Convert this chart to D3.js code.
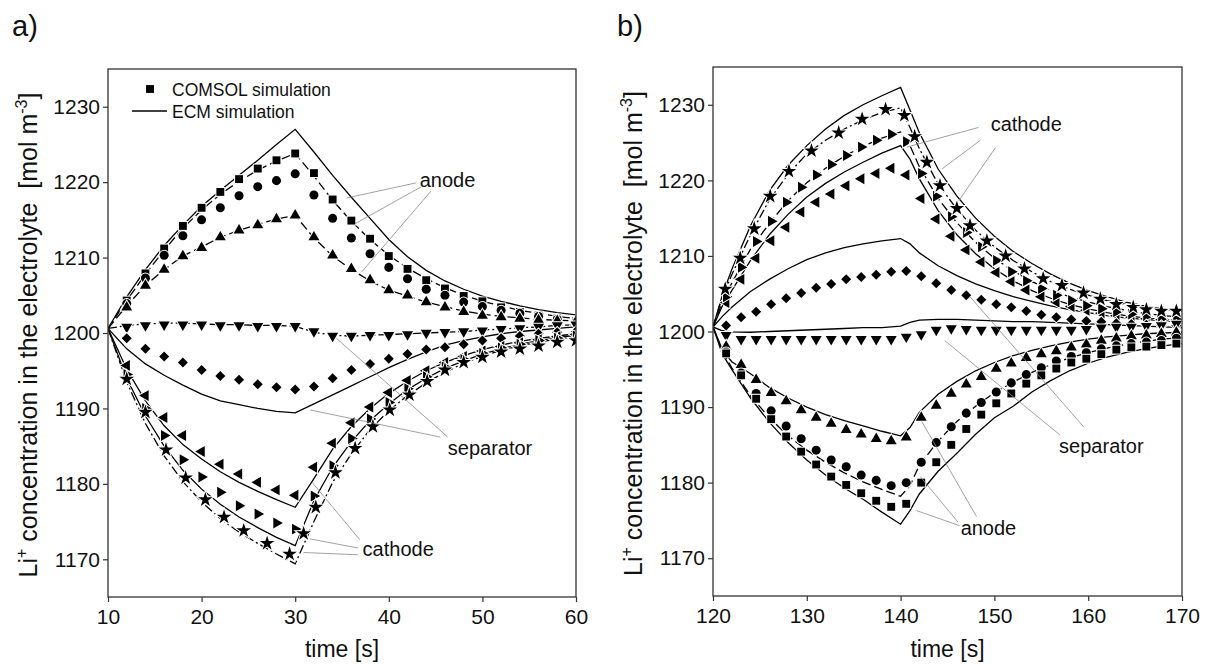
<!DOCTYPE html>
<html>
<head>
<meta charset="utf-8">
<script src="https://cdn.jsdelivr.net/npm/d3@7"></script>
<style>
  html, body { margin: 0; padding: 0; background: #fff; }
  svg text { font-family: Arial, "Liberation Sans", sans-serif; }
</style>
</head>
<body>
<svg id="fig" width="1207" height="665"></svg>
<script>
// ---------------- data: panel a (pulse 10-30 s, relaxation to 60 s) ----------------
const tMarkA = [12,14,16,18,20,22,24,26,28,30,32,34,36,38,40,42,44,46,48,50,52,54,56,58,60];
const anodeSqA  = [1204.3,1207.9,1211.2,1214.2,1216.6,1218.7,1220.4,1221.8,1222.9,1223.8,1221.2,1217.7,1214.9,1212.5,1210.2,1208.5,1207.0,1205.9,1204.9,1204.2,1203.4,1202.8,1202.3,1201.9,1201.6];
const anodeCiA  = [1203.9,1207.3,1210.3,1212.9,1215.0,1216.6,1218.2,1219.4,1220.2,1221.1,1218.3,1215.2,1212.6,1210.5,1208.7,1207.2,1205.8,1205.0,1204.1,1203.5,1203.0,1202.6,1202.2,1201.8,1201.5];
const anodeTrA  = [1203.4,1206.3,1208.4,1210.2,1211.3,1212.7,1213.6,1214.3,1215.1,1215.6,1212.7,1210.3,1208.5,1207.0,1205.7,1205.0,1204.1,1203.4,1202.8,1202.3,1202.1,1201.9,1201.7,1201.6,1201.5];
const sepDownA  = [1200.8,1201.0,1201.1,1201.1,1201.1,1201.0,1201.0,1200.9,1200.9,1200.9,1200.2,1199.6,1199.6,1199.7,1199.7,1199.8,1200.0,1200.1,1200.2,1200.3,1200.5,1200.6,1200.8,1201.0,1201.1];
const sepDiaA   = [1199.3,1197.9,1196.9,1196.1,1195.1,1194.3,1193.8,1193.2,1192.8,1192.5,1192.9,1194.0,1195.1,1195.9,1196.6,1197.2,1197.8,1198.1,1198.5,1199.0,1199.3,1199.6,1199.9,1200.1,1200.2];
const cathLeftA = [1195.7,1191.7,1188.8,1186.4,1184.3,1182.6,1181.3,1180.2,1179.2,1178.5,1182.2,1185.4,1188.1,1190.2,1192.1,1193.7,1195.0,1196.1,1196.9,1197.6,1198.2,1198.7,1199.1,1199.5,1199.8];
const cathRightA= [1194.5,1190.0,1186.4,1183.2,1180.9,1178.9,1177.1,1176.0,1174.8,1174.0,1178.4,1182.4,1186.0,1188.6,1190.8,1192.6,1194.2,1195.5,1196.5,1197.3,1198.0,1198.5,1199.0,1199.3,1199.6];
const tStarA    = [12,14,16.2,18.3,20.4,22.4,24.5,27.0,29.4,30.9,32.2,34.3,36.4,38.3,40.1,42.2,44.1,46,48,50,52,54,56,58,60];
const cathStarA = [1193.9,1189.5,1184.5,1180.8,1177.9,1175.6,1173.8,1172.1,1170.7,1173.4,1176.9,1181.5,1184.7,1187.6,1189.8,1191.8,1193.6,1195.1,1196.1,1196.8,1197.5,1197.9,1198.3,1198.8,1199.0];

const tEcmA = [10,12,14,16,18,20,22,24,26,28,30,32,34,36,38,40,42,44,46,48,50,52,54,56,58,60];
const ecmAnode1A = [1200.6,1204.8,1208.4,1211.6,1214.3,1216.8,1218.9,1220.9,1222.9,1225.0,1227.0,1224.0,1220.9,1218.0,1215.2,1212.4,1210.1,1208.3,1206.9,1205.8,1204.9,1204.2,1203.6,1203.1,1202.7,1202.4];
const ecmAnode2A = [1200.6,1204.3,1207.8,1211.0,1213.9,1216.3,1218.4,1220.1,1221.6,1222.8,1223.8,1220.8,1217.6,1214.8,1212.4,1210.3,1208.6,1207.2,1206.0,1205.0,1204.2,1203.6,1203.0,1202.6,1202.2,1201.9];
const ecmAnode3A = [1200.6,1203.6,1206.3,1208.4,1210.2,1211.4,1212.7,1213.6,1214.4,1215.1,1215.6,1212.6,1210.2,1208.4,1206.9,1205.7,1204.9,1204.1,1203.5,1202.9,1202.5,1202.2,1202.0,1201.8,1201.7,1201.6];
const ecmSep1A   = [1200.6,1201.0,1201.2,1201.3,1201.3,1201.2,1201.1,1201.1,1201.0,1201.0,1200.9,1200.1,1199.7,1199.6,1199.7,1199.8,1199.9,1200.0,1200.1,1200.2,1200.4,1200.5,1200.7,1200.8,1201.0,1201.1];
const ecmSep2A   = [1200.6,1197.9,1195.9,1194.4,1193.1,1191.9,1191.0,1190.5,1190.0,1189.6,1189.4,1190.6,1191.8,1193.0,1194.2,1195.4,1196.5,1197.5,1198.4,1199.0,1199.5,1199.9,1200.2,1200.4,1200.6,1200.8];
const ecmCath1A  = [1200.6,1195.2,1191.0,1187.7,1185.2,1183.3,1181.6,1180.2,1179.0,1177.9,1176.9,1180.7,1184.6,1187.6,1190.0,1192.0,1193.6,1195.0,1196.1,1197.0,1197.8,1198.4,1198.9,1199.3,1199.6,1199.9];
const ecmCath2A  = [1200.6,1194.0,1189.0,1185.0,1181.8,1179.3,1177.3,1175.6,1174.2,1172.9,1171.8,1177.8,1182.2,1185.6,1188.4,1190.6,1192.5,1194.0,1195.3,1196.3,1197.2,1197.9,1198.5,1199.0,1199.4,1199.7];
const ecmCath3A  = [1200.6,1193.5,1188.0,1183.7,1180.3,1177.6,1175.4,1173.6,1172.1,1170.7,1169.4,1175.0,1180.2,1184.0,1187.2,1189.7,1191.7,1193.4,1194.8,1196.0,1196.9,1197.7,1198.3,1198.8,1199.2,1199.5];

// ---------------- data: panel b (pulse 120-140 s, relaxation to 170 s) ----------------
const tMarkB = [121.4,123.0,124.6,126.2,127.8,129.4,131.0,132.6,134.2,135.8,137.4,139.0,140.6,142.2,143.8,145.4,147.0,148.6,150.2,151.8,153.4,155.0,156.6,158.2,159.8,161.4,163.0,164.6,166.2,167.8,169.4];
const cathLeftB  = [1203.85,1206.9,1209.7,1212.0,1213.8,1215.8,1217.1,1218.2,1219.3,1220.2,1220.9,1221.6,1220.7,1217.6,1214.9,1212.6,1210.8,1209.2,1207.8,1206.6,1205.5,1204.6,1203.9,1203.3,1202.8,1202.4,1202.1,1201.9,1201.7,1201.6,1201.5];
const cathRightB = [1204.6,1208.5,1211.9,1214.6,1217.1,1219.1,1220.7,1222.1,1223.3,1224.4,1225.3,1226.1,1225.1,1220.9,1217.9,1215.2,1213.1,1211.2,1209.4,1207.9,1206.7,1205.7,1204.8,1204.1,1203.4,1203.0,1202.6,1202.3,1202.0,1201.7,1201.6];
const sepDiaB    = [1200.8,1201.9,1202.6,1203.6,1204.4,1205.1,1205.8,1206.3,1206.9,1207.2,1207.5,1207.9,1208.0,1207.3,1206.4,1205.5,1204.8,1204.2,1203.6,1203.2,1202.7,1202.2,1201.9,1201.6,1201.4,1201.3,1201.1,1201.0,1200.9,1200.8,1200.8];
const sepDownB   = [1199.5,1199.0,1199.0,1199.0,1199.0,1199.0,1199.0,1199.0,1199.0,1199.0,1199.0,1199.0,1199.3,1199.6,1200.2,1200.4,1200.3,1200.2,1200.2,1200.2,1200.2,1200.2,1200.2,1200.2,1200.3,1200.5,1200.6,1200.6,1200.7,1200.8,1201.0];
const anodeTrB   = [1198.0,1195.6,1193.6,1191.9,1190.8,1189.6,1188.6,1187.8,1187.0,1186.4,1185.8,1185.5,1186.0,1188.6,1190.2,1191.8,1193.0,1194.0,1195.1,1195.8,1196.5,1197.0,1197.4,1197.9,1198.3,1198.8,1199.1,1199.4,1199.5,1199.7,1199.9];
const anodeCiB   = [1197.3,1194.5,1191.8,1189.5,1187.5,1185.8,1184.3,1183.0,1182.1,1181.0,1180.3,1179.6,1180.0,1182.7,1185.3,1187.4,1189.2,1190.6,1192.0,1193.2,1194.3,1195.2,1196.1,1196.7,1197.2,1197.7,1198.1,1198.4,1198.6,1198.8,1199.1];
const anodeSqB   = [1197.1,1194.2,1191.1,1188.4,1186.1,1184.1,1182.4,1180.8,1179.7,1178.6,1177.6,1176.8,1177.2,1180.0,1182.7,1185.0,1187.1,1189.0,1190.5,1191.8,1193.1,1194.2,1195.1,1195.9,1196.4,1197.0,1197.6,1197.9,1198.0,1198.2,1198.4];
const tStarB     = [121.3,122.9,124.4,126.1,128.1,130.5,133.4,135.9,138.4,140.4,141.5,142.8,144.2,146.0,147.4,149.2,151.2,153.2,155.2,157.2,159.5,161.3,163.0,164.8,166.2,167.8,169.4];
const cathStarB  = [1205.6,1209.7,1213.6,1217.9,1221.2,1223.9,1226.3,1228.1,1229.4,1228.6,1225.8,1222.4,1219.3,1216.3,1214.0,1212.0,1210.0,1208.3,1207.0,1206.1,1205.1,1204.3,1203.6,1203.2,1202.9,1202.7,1202.7];

const tEcmB = [120,121,122,124,126,128,130,132,134,136,138,140,141,142,144,146,148,150,152,154,156,158,160,162,164,166,168,170];
const ecmCath1B = [1200.6,1204.8,1208.2,1214.0,1218.6,1222.0,1224.6,1226.8,1228.6,1230.0,1231.2,1232.3,1229.3,1226.3,1221.5,1217.9,1215.0,1212.6,1210.6,1209.0,1207.6,1206.4,1205.4,1204.6,1203.9,1203.4,1203.0,1202.7];
const ecmCath2B = [1200.6,1204.6,1207.5,1212.8,1217.4,1220.8,1223.5,1225.3,1226.8,1228.0,1229.0,1229.6,1227.0,1224.2,1219.5,1216.2,1213.4,1211.2,1209.4,1207.9,1206.6,1205.6,1204.8,1204.1,1203.6,1203.2,1202.9,1202.7];
const ecmCath3B = [1200.6,1203.9,1206.4,1210.9,1214.3,1217.3,1219.7,1221.6,1223.2,1224.5,1225.6,1226.4,1224.6,1221.8,1217.6,1214.4,1211.8,1209.7,1208.0,1206.6,1205.5,1204.6,1203.9,1203.3,1202.8,1202.4,1202.1,1201.9];
const ecmCath4B = [1200.6,1203.4,1205.4,1209.4,1212.8,1215.5,1217.8,1219.6,1221.1,1222.4,1223.6,1224.6,1222.8,1220.2,1216.0,1212.8,1210.3,1208.3,1206.7,1205.4,1204.4,1203.6,1203.0,1202.5,1202.1,1201.8,1201.6,1201.5];
const ecmSep1B  = [1200.6,1202.0,1203.2,1205.3,1206.9,1208.3,1209.5,1210.4,1211.1,1211.6,1212.0,1212.3,1211.6,1210.4,1208.7,1207.4,1206.3,1205.4,1204.6,1204.0,1203.4,1202.9,1202.5,1202.1,1201.8,1201.6,1201.4,1201.3];
const ecmSep2B  = [1200.6,1200.1,1199.95,1199.9,1200.0,1200.1,1200.2,1200.3,1200.4,1200.5,1200.5,1200.7,1201.2,1201.5,1201.6,1201.6,1201.5,1201.4,1201.3,1201.3,1201.2,1201.1,1201.0,1200.9,1200.8,1200.7,1200.6,1200.5];
const ecmAnode1B= [1200.6,1197.6,1196.0,1194.4,1192.6,1191.2,1190.0,1189.0,1188.2,1187.5,1186.8,1186.2,1187.3,1189.3,1191.7,1193.4,1194.8,1195.9,1196.8,1197.5,1198.1,1198.6,1199.0,1199.3,1199.5,1199.7,1199.8,1199.9];
const ecmAnode2B= [1200.6,1197.4,1195.2,1191.5,1188.6,1186.2,1184.3,1182.7,1181.3,1180.1,1179.1,1178.2,1179.6,1182.3,1185.5,1188.1,1190.1,1191.9,1193.3,1194.6,1195.6,1196.5,1197.2,1197.8,1198.3,1198.7,1199.0,1199.2];
const ecmAnode3B= [1200.6,1197.0,1195.0,1191.2,1188.0,1185.3,1183.0,1181.0,1179.3,1177.8,1176.1,1174.5,1176.3,1178.5,1181.5,1183.9,1186.4,1188.6,1190.1,1192.0,1193.5,1194.8,1195.8,1196.6,1197.2,1197.7,1198.1,1198.4];

const yTicks = [1170,1180,1190,1200,1210,1220,1230];
const xTicksA = [10,20,30,40,50,60];
const xTicksB = [120,130,140,150,160,170];

// ---------------- drawing ----------------
const svg = d3.select("#fig");
const FONT = 'Arial, "Liberation Sans", sans-serif';

const DASH = { solid: null, dash: "9,4", dashdot: "9,3,2,3" };

const symbolDefs = {
  square:   { type: d3.symbolSquare,   size: 62, rot: 0 },
  circle:   { type: d3.symbolCircle,   size: 64, rot: 0 },
  triUp:    { type: d3.symbolTriangle, size: 52, rot: 0 },
  triDown:  { type: d3.symbolTriangle, size: 52, rot: 180 },
  triLeft:  { type: d3.symbolTriangle, size: 52, rot: -90 },
  triRight: { type: d3.symbolTriangle, size: 52, rot: 90 },
  diamond:  { type: d3.symbolSquare,   size: 50, rot: 45 },
  star:     { type: d3.symbolStar,     size: 66, rot: 0 }
};

function panel(cfg) {
  const x = d3.scaleLinear().domain(cfg.xDomain).range(cfg.xRange);
  const y = d3.scaleLinear().domain([1165, 1235]).range(cfg.yRange);
  const g = svg.append("g");
  const clipId = "clip-" + cfg.id;
  svg.append("defs").append("clipPath").attr("id", clipId)
    .append("rect")
    .attr("x", cfg.xRange[0]).attr("y", cfg.yRange[1])
    .attr("width", cfg.xRange[1] - cfg.xRange[0])
    .attr("height", cfg.yRange[0] - cfg.yRange[1]);

  const plot = g.append("g").attr("clip-path", `url(#${clipId})`);

  // leader lines for the region labels
  const leaders = g.append("g");
  cfg.labels.forEach(lb => {
    lb.links.forEach(([p, q]) => {
      leaders.append("line")
        .attr("x1", x(p[0])).attr("y1", y(p[1]))
        .attr("x2", x(q[0])).attr("y2", y(q[1]))
        .attr("stroke", "#8a8a8a").attr("stroke-width", 0.8);
    });
  });

  // ECM simulation curves
  const line = d3.line().x(d => x(d[0])).y(d => y(d[1]));
  cfg.lines.forEach(s => {
    plot.append("path")
      .datum(s.t.map((t, i) => [t, s.v[i]]))
      .attr("d", line)
      .attr("fill", "none")
      .attr("stroke", "#000")
      .attr("stroke-width", 1.3)
      .attr("stroke-dasharray", DASH[s.style]);
  });

  // COMSOL simulation markers
  cfg.markers.forEach(s => {
    const def = symbolDefs[s.shape];
    const sym = d3.symbol().type(def.type).size(def.size)();
    plot.append("g").selectAll("path")
      .data(s.t.map((t, i) => [t, s.v[i]]))
      .join("path")
      .attr("d", sym)
      .attr("transform", d => `translate(${x(d[0])},${y(d[1])}) rotate(${def.rot})`)
      .attr("fill", "#000")
      .attr("stroke", "#fff")
      .attr("stroke-width", 2)
      .attr("paint-order", "stroke");
  });

  // frame
  g.append("rect")
    .attr("x", cfg.xRange[0]).attr("y", cfg.yRange[1])
    .attr("width", cfg.xRange[1] - cfg.xRange[0])
    .attr("height", cfg.yRange[0] - cfg.yRange[1])
    .attr("fill", "none").attr("stroke", "#333").attr("stroke-width", 1.3);

  // axes
  const yAxis = g.append("g")
    .attr("transform", `translate(${cfg.xRange[0]},0)`)
    .call(d3.axisLeft(y).tickValues(yTicks).tickSize(5).tickPadding(3).tickFormat(d3.format("d")));
  const xAxis = g.append("g")
    .attr("transform", `translate(0,${cfg.yRange[0]})`)
    .call(d3.axisBottom(x).tickValues(cfg.xTicks).tickSize(5).tickPadding(7).tickFormat(d3.format("d")));
  [yAxis, xAxis].forEach(a => {
    a.select(".domain").remove();
    a.selectAll(".tick line").attr("stroke", "#333").attr("stroke-width", 1.2);
    a.selectAll(".tick text").attr("font-size", 21).attr("font-family", FONT).attr("fill", "#111");
  });

  // region labels
  cfg.labels.forEach(lb => {
    g.append("text")
      .attr("x", x(lb.at[0])).attr("y", y(lb.at[1]))
      .attr("font-size", 20).attr("font-family", FONT).attr("fill", "#111")
      .text(lb.text);
  });

  // axis titles
  const xm = (cfg.xRange[0] + cfg.xRange[1]) / 2;
  const ym = (cfg.yRange[0] + cfg.yRange[1]) / 2;
  g.append("text")
    .attr("x", xm).attr("y", 657)
    .attr("text-anchor", "middle")
    .attr("font-size", 23).attr("font-family", FONT).attr("fill", "#111")
    .text("time [s]");

  const yt = g.append("text")
    .attr("transform", `translate(${cfg.xRange[0] - 71},${ym + 2}) rotate(-90)`)
    .attr("text-anchor", "middle")
    .attr("font-size", 25).attr("font-family", FONT).attr("fill", "#111")
    .style("white-space", "pre");
  yt.append("tspan").text("Li");
  yt.append("tspan").attr("dy", -10).attr("font-size", 16).text("+");
  yt.append("tspan").attr("dy", 10).text(" concentration in the electrolyte  [mol m");
  yt.append("tspan").attr("dy", -10).attr("font-size", 16).text("-3");
  yt.append("tspan").attr("dy", 10).text("]");

  g.append("text")
    .attr("x", cfg.tag[0]).attr("y", cfg.tag[1])
    .attr("font-size", 29).attr("font-family", FONT).attr("fill", "#111")
    .text(cfg.tagText);

  return { g, x, y };
}

const A = panel({
  id: "a", tagText: "a)", tag: [12, 36],
  xDomain: [10, 60], xRange: [108, 576], yRange: [597, 69], xTicks: xTicksA,
  lines: [
    { t: tEcmA, v: ecmAnode1A, style: "solid" },
    { t: tEcmA, v: ecmAnode2A, style: "dash" },
    { t: tEcmA, v: ecmAnode3A, style: "dash" },
    { t: tEcmA, v: ecmSep1A,   style: "dashdot" },
    { t: tEcmA, v: ecmSep2A,   style: "solid" },
    { t: tEcmA, v: ecmCath1A,  style: "solid" },
    { t: tEcmA, v: ecmCath2A,  style: "solid" },
    { t: tEcmA, v: ecmCath3A,  style: "dashdot" }
  ],
  markers: [
    { shape: "square",   t: tMarkA, v: anodeSqA },
    { shape: "circle",   t: tMarkA, v: anodeCiA },
    { shape: "triUp",    t: tMarkA, v: anodeTrA },
    { shape: "triDown",  t: tMarkA, v: sepDownA },
    { shape: "diamond",  t: tMarkA, v: sepDiaA },
    { shape: "triLeft",  t: tMarkA, v: cathLeftA },
    { shape: "triRight", t: tMarkA, v: cathRightA },
    { shape: "star",     t: tStarA, v: cathStarA }
  ],
  labels: [
    { text: "anode", at: [43.3, 1219.4],
      links: [[[42.9, 1219.9], [35.5, 1217.9]],
              [[43.5, 1219.4], [36.4, 1214.5]],
              [[44.5, 1218.8], [37.1, 1208.1]]] },
    { text: "separator", at: [46.3, 1183.8],
      links: [[[45.5, 1186.2], [31.6, 1189.8]],
              [[46.3, 1186.2], [34.4, 1199.3]]] },
    { text: "cathode", at: [37.2, 1170.4],
      links: [[[36.9, 1172.6], [31.8, 1180.2]],
              [[36.7, 1171.5], [31.6, 1172.7]],
              [[36.7, 1170.6], [30.9, 1170.9]]] }
  ]
});

const B = panel({
  id: "b", tagText: "b)", tag: [617, 36],
  xDomain: [120, 170], xRange: [713, 1182], yRange: [596, 67], xTicks: xTicksB,
  lines: [
    { t: tEcmB, v: ecmCath1B,  style: "solid" },
    { t: tEcmB, v: ecmCath2B,  style: "dashdot" },
    { t: tEcmB, v: ecmCath3B,  style: "dash" },
    { t: tEcmB, v: ecmCath4B,  style: "solid" },
    { t: tEcmB, v: ecmSep1B,   style: "solid" },
    { t: tEcmB, v: ecmSep2B,   style: "solid" },
    { t: tEcmB, v: ecmAnode1B, style: "solid" },
    { t: tEcmB, v: ecmAnode2B, style: "dash" },
    { t: tEcmB, v: ecmAnode3B, style: "solid" }
  ],
  markers: [
    { shape: "triLeft",  t: tMarkB, v: cathLeftB },
    { shape: "triRight", t: tMarkB, v: cathRightB },
    { shape: "star",     t: tStarB, v: cathStarB },
    { shape: "diamond",  t: tMarkB, v: sepDiaB },
    { shape: "triDown",  t: tMarkB, v: sepDownB },
    { shape: "triUp",    t: tMarkB, v: anodeTrB },
    { shape: "circle",   t: tMarkB, v: anodeCiB },
    { shape: "square",   t: tMarkB, v: anodeSqB }
  ],
  labels: [
    { text: "cathode", at: [149.6, 1226.5],
      links: [[[148.3, 1227.0], [140.65, 1224.4]],
              [[148.5, 1225.3], [144.4, 1221.5]],
              [[150.1, 1224.3], [146.2, 1217.3]]] },
    { text: "separator", at: [156.9, 1183.9],
      links: [[[157.0, 1186.3], [144.7, 1198.8]],
              [[159.5, 1187.4], [147.4, 1204.6]]] },
    { text: "anode", at: [146.4, 1173.1],
      links: [[[146.3, 1174.3], [141.7, 1176.3]],
              [[146.1, 1174.8], [142.1, 1180.8]],
              [[148.1, 1175.5], [142.25, 1188.1]]] }
  ]
});

// legend (panel a)
const legend = A.g.append("g");
legend.append("path")
  .attr("d", d3.symbol().type(d3.symbolSquare).size(62)())
  .attr("transform", "translate(150,89)")
  .attr("fill", "#000");
legend.append("text").attr("x", 172).attr("y", 95.5)
  .attr("font-size", 17.5).attr("font-family", FONT).attr("fill", "#111")
  .text("COMSOL simulation");
legend.append("line").attr("x1", 132).attr("x2", 167).attr("y1", 111).attr("y2", 111)
  .attr("stroke", "#000").attr("stroke-width", 1.3);
legend.append("text").attr("x", 172).attr("y", 117.5)
  .attr("font-size", 17.5).attr("font-family", FONT).attr("fill", "#111")
  .text("ECM simulation");
</script>
</body>
</html>
